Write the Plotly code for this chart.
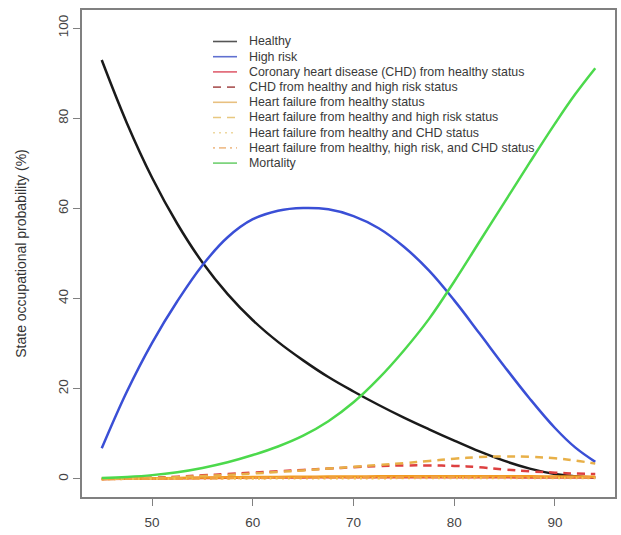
import plotly.graph_objects as go

ages = [45, 47.5, 50, 52.5, 55, 57.5, 60, 62.5, 65, 67.5, 70, 72.5, 75, 77.5, 80, 82.5, 85, 87.5, 90, 92, 94]

healthy = [92.9, 78.9, 66.8, 56.6, 48.0, 41.0, 35.2, 30.4, 26.3, 22.6, 19.4, 16.4, 13.6, 11.0, 8.5, 6.1, 4.0, 2.3, 1.1, 0.6, 0.3]
high_risk = [6.8, 19.4, 30.2, 39.4, 47.4, 53.6, 57.6, 59.5, 60.1, 59.8, 58.3, 55.6, 51.5, 46.2, 39.6, 32.3, 24.9, 17.8, 11.3, 7.0, 3.8]
chd_healthy = [0.0, 0.05, 0.1, 0.15, 0.2, 0.25, 0.3, 0.32, 0.35, 0.37, 0.4, 0.4, 0.4, 0.4, 0.4, 0.38, 0.36, 0.34, 0.32, 0.3, 0.3]
chd_healthy_hr = [0.0, 0.12, 0.3, 0.5, 0.8, 1.1, 1.4, 1.7, 2.0, 2.3, 2.6, 2.85, 3.0, 3.0, 2.9, 2.6, 2.1, 1.7, 1.4, 1.2, 1.1]
hf_healthy = [0.0, 0.08, 0.15, 0.22, 0.3, 0.36, 0.42, 0.46, 0.5, 0.53, 0.56, 0.58, 0.6, 0.6, 0.6, 0.6, 0.6, 0.58, 0.55, 0.52, 0.5]
hf_healthy_hr = [0.0, 0.08, 0.2, 0.4, 0.65, 0.9, 1.2, 1.55, 1.9, 2.3, 2.7, 3.1, 3.5, 4.0, 4.5, 4.85, 5.0, 4.9, 4.6, 4.1, 3.4]
hf_healthy_chd = [0.0, 0.02, 0.04, 0.06, 0.08, 0.1, 0.12, 0.14, 0.15, 0.16, 0.17, 0.18, 0.19, 0.2, 0.2, 0.2, 0.2, 0.2, 0.2, 0.2, 0.2]
hf_healthy_hr_chd = [0.0, 0.03, 0.06, 0.1, 0.14, 0.18, 0.22, 0.26, 0.3, 0.33, 0.36, 0.38, 0.4, 0.42, 0.43, 0.43, 0.42, 0.4, 0.38, 0.36, 0.34]
mortality = [0.2, 0.45, 0.85, 1.5, 2.45, 3.7, 5.3, 7.2, 9.6, 12.8, 17.0, 22.3, 28.5, 35.5, 43.8, 52.6, 61.4, 70.2, 78.8, 85.3, 91.1]

series_names = [
    "Healthy",
    "High risk",
    "Coronary heart disease (CHD) from healthy status",
    "CHD from healthy and high risk status",
    "Heart failure from healthy status",
    "Heart failure from healthy and high risk status",
    "Heart failure from healthy and CHD status",
    "Heart failure from healthy, high risk, and CHD status",
    "Mortality",
]
series_values = [healthy, high_risk, chd_healthy, chd_healthy_hr, hf_healthy,
                 hf_healthy_hr, hf_healthy_chd, hf_healthy_hr_chd, mortality]
series_colors = ["#1a1a1a", "#3a4fd6", "#e0403a", "#dd4040", "#f29a20",
                 "#e8b048", "#f2c050", "#f0a040", "#4cd94c"]
series_dash = ["solid", "solid", "solid", "8px,6px", "solid",
               "8px,6px", "2px,4px", "2px,4px,7px,4px", "solid"]
legend_colors = ["#555555", "#6070d0", "#e06070", "#b06060", "#e8c080",
                 "#e8c880", "#eed8a0", "#f0c090", "#70d070"]

x_ticks = [50, 60, 70, 80, 90]
y_ticks = [0, 20, 40, 60, 80, 100]

# layout geometry (pixels)
W, H = 621, 535
ML, MR, MT, MB = 82, 6, 10, 38
PW, PH = W - ML - MR, H - MT - MB

def px_x(p):
    return (p - ML) / PW

def px_y(p):
    return (H - MB - p) / PH

fig = go.Figure()
for name, vals, color, dash in zip(series_names, series_values, series_colors, series_dash):
    fig.add_trace(go.Scatter(
        x=ages, y=vals, name=name, mode="lines", showlegend=False,
        line=dict(color=color, width=2.5, dash=dash, shape="spline", smoothing=1.1),
    ))

# manual legend (R-style compact rows)
shapes = []
annotations = []
row0, row_gap = 41.5, 15.2
for i, (name, color, dash) in enumerate(zip(series_names, legend_colors, series_dash)):
    yp = px_y(row0 + i * row_gap)
    shapes.append(dict(type="line", xref="paper", yref="paper",
                       x0=px_x(213), x1=px_x(237), y0=yp, y1=yp,
                       line=dict(color=color, width=1.6, dash=dash)))
    annotations.append(dict(xref="paper", yref="paper", x=px_x(247), y=yp,
                            xanchor="left", yanchor="middle", showarrow=False,
                            text=name, font=dict(size=12.4, color="#3a3a3a")))

axis_common = dict(
    showline=True, mirror=True, linecolor="#808080", linewidth=1.5,
    ticks="outside", ticklen=7, tickcolor="#808080", tickwidth=1.2,
    showgrid=False, zeroline=False, automargin=False,
    tickfont=dict(family="Liberation Sans, Arial, sans-serif", size=13.5, color="#444"),
)

fig.update_layout(
    width=W, height=H,
    margin=dict(l=ML, r=MR, t=MT, b=MB),
    paper_bgcolor="white", plot_bgcolor="white",
    font=dict(family="Liberation Sans, Arial, sans-serif", color="#333"),
    xaxis=dict(range=[43.04, 95.96], tickvals=x_ticks, ticklabelstandoff=5, **axis_common),
    yaxis=dict(range=[-4, 104], tickvals=y_ticks, tickangle=-90,
               title=dict(text="State occupational probability (%)",
                          font=dict(size=14, color="#333"), standoff=26),
               **axis_common),
    shapes=shapes,
    annotations=annotations,
    showlegend=False,
)

fig.write_html("out.html", config={"displayModeBar": False})

# remove the browser's default page margin so the figure fills the window exactly
with open("out.html", encoding="utf-8") as f:
    html = f.read()
html = html.replace("<head>", "<head><style>html,body{margin:0;padding:0;overflow:hidden;}</style>", 1)
with open("out.html", "w", encoding="utf-8") as f:
    f.write(html)
